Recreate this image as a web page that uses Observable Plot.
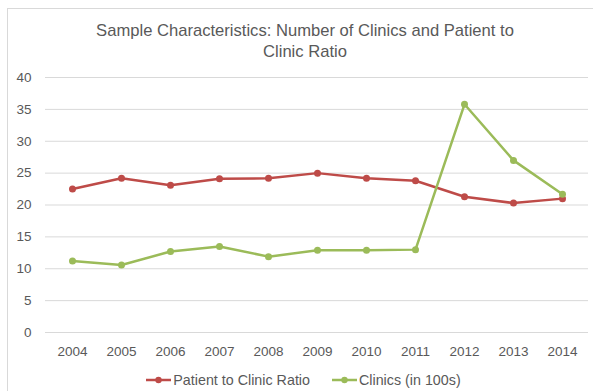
<!DOCTYPE html>
<html>
<head>
<meta charset="utf-8">
<script src="https://cdn.jsdelivr.net/npm/d3@7"></script>
<script src="https://cdn.jsdelivr.net/npm/@observablehq/plot@0.6"></script>
<style>
  html, body { margin: 0; padding: 0; background: #fff; }
  #frame {
    position: absolute; left: 7px; top: 8px; width: 586px; height: 383px;
    border-left: 1px solid #d9d9d9; border-top: 1px solid #d9d9d9;
    font-family: "Liberation Sans", Arial, sans-serif; color: #595959;
  }
  #title { height: 56px; text-align: center; font-size: 16.6px; line-height: 21px; padding-top: 11px; padding-left: 8px; box-sizing: border-box; }
  #chart svg { display: block; }
  #legend { position: absolute; top: 362px; left: 0; width: 586px; height: 18px; display: flex; justify-content: center; align-items: center; padding-left: 5px; box-sizing: border-box; font-size: 14.3px; white-space: nowrap; }
  .item { display: inline-flex; align-items: center; margin: 0 11px; }
  .item svg { margin-right: 2px; }
</style>
</head>
<body>
<div id="frame">
  <div id="title">Sample Characteristics: Number of Clinics and Patient to<br>Clinic Ratio</div>
  <div id="chart"></div>
  <div id="legend"></div>
</div>
<script>
const years = ["2004","2005","2006","2007","2008","2009","2010","2011","2012","2013","2014"];
const ratio = [22.5, 24.2, 23.1, 24.1, 24.2, 25.0, 24.2, 23.8, 21.3, 20.3, 21.0];
const clinics = [11.2, 10.6, 12.7, 13.5, 11.9, 12.9, 12.9, 13.0, 35.8, 27.0, 21.7];
const seriesNames = ["Patient to Clinic Ratio", "Clinics (in 100s)"];
const colors = ["#be4b48", "#9bbb59"];
const yTicks = [0, 5, 10, 15, 20, 25, 30, 35, 40];

const data = [];
years.forEach((y, i) => {
  data.push({year: y, value: ratio[i], series: seriesNames[0]});
  data.push({year: y, value: clinics[i], series: seriesNames[1]});
});

const plot = Plot.plot({
  width: 586,
  height: 300,
  marginLeft: 37,
  marginRight: 6,
  marginTop: 12,
  marginBottom: 33,
  style: {fontFamily: '"Liberation Sans", Arial, sans-serif', fontSize: "13.5px", color: "#595959", background: "transparent"},
  x: {type: "point", domain: years, padding: 0.5, label: null},
  y: {domain: [0, 40], label: null},
  color: {domain: seriesNames, range: colors},
  marks: [
    Plot.gridY(yTicks, {stroke: "#d9d9d9", strokeOpacity: 1, strokeWidth: 1}),
    Plot.axisY(yTicks, {tickSize: 0, tickPadding: 14, label: null, fill: "#595959"}),
    Plot.axisX({tickSize: 0, tickPadding: 14, label: null, fill: "#595959"}),
    Plot.line(data, {x: "year", y: "value", stroke: "series", strokeWidth: 2.5}),
    Plot.dot(data, {x: "year", y: "value", fill: "series", r: 3.5})
  ]
});
document.getElementById("chart").appendChild(plot);

const legend = document.getElementById("legend");
seriesNames.forEach((name, i) => {
  const span = document.createElement("span");
  span.className = "item";
  span.innerHTML = `<svg width="25" height="10"><line x1="0" y1="5" x2="25" y2="5" stroke="${colors[i]}" stroke-width="2.5"/><circle cx="12.5" cy="5" r="3.2" fill="${colors[i]}"/></svg><span>${name}</span>`;
  legend.appendChild(span);
});
</script>
</body>
</html>
